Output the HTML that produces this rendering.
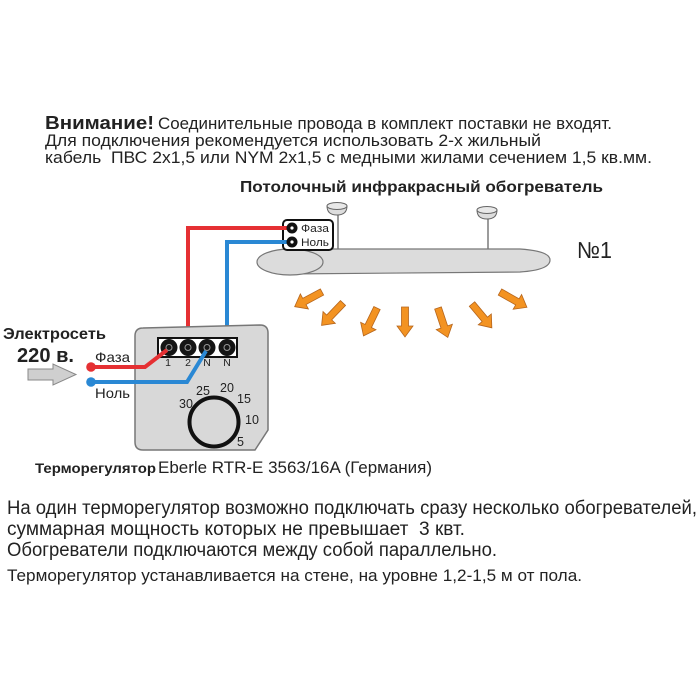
<!DOCTYPE html>
<html>
<head>
<meta charset="utf-8">
<style>
  html,body{margin:0;padding:0;background:#fff;}
  svg{display:block;}
  text{font-family:"Liberation Sans","DejaVu Sans",sans-serif;fill:#222;white-space:pre;}
  .b{font-weight:bold;}
</style>
</head>
<body>
<svg width="700" height="700" viewBox="0 0 700 700" xmlns="http://www.w3.org/2000/svg">
  <rect x="0" y="0" width="700" height="700" fill="#fff"/>

  <!-- Top text -->
  <text class="b" x="45" y="129" font-size="18" textLength="109" lengthAdjust="spacingAndGlyphs">Внимание!</text>
  <text x="158" y="129" font-size="16.5" textLength="454" lengthAdjust="spacingAndGlyphs">Соединительные провода в комплект поставки не входят.</text>
  <text x="45" y="146" font-size="16.5" textLength="496" lengthAdjust="spacingAndGlyphs">Для подключения рекомендуется использовать 2-х жильный</text>
  <text x="45" y="163" font-size="16.5" textLength="607" lengthAdjust="spacingAndGlyphs">кабель  ПВС 2х1,5 или NYM 2х1,5 с медными жилами сечением 1,5 кв.мм.</text>
  <text class="b" x="240" y="192" font-size="16" textLength="363" lengthAdjust="spacingAndGlyphs">Потолочный инфракрасный обогреватель</text>

  <!-- Heater hangers -->
  <line x1="338" y1="213" x2="338" y2="250" stroke="#666" stroke-width="1.3"/>
  <path d="M327 206 Q327 215 337 215 Q347 215 347 206 Z" fill="#ddd" stroke="#666" stroke-width="1"/>
  <ellipse cx="337" cy="206" rx="10" ry="3.5" fill="#e8e8e8" stroke="#666" stroke-width="1"/>
  <line x1="488" y1="217" x2="488" y2="250" stroke="#666" stroke-width="1.3"/>
  <path d="M477 210 Q477 219 487 219 Q497 219 497 210 Z" fill="#ddd" stroke="#666" stroke-width="1"/>
  <ellipse cx="487" cy="210" rx="10" ry="3.5" fill="#e8e8e8" stroke="#666" stroke-width="1"/>

  <!-- Heater body -->
  <path d="M285 249 L520 249 Q550 251 550 260 Q550 270 520 272 L285 274 Z" fill="#dcdcdc" stroke="#777" stroke-width="1.2"/>
  <ellipse cx="290" cy="262" rx="33" ry="13" fill="#dcdcdc" stroke="#777" stroke-width="1.2"/>

  <!-- Heater terminal box -->
  <rect x="283" y="220" width="50" height="30" rx="4" fill="#fff" stroke="#111" stroke-width="2"/>
  <text x="301" y="232" font-size="11" textLength="28" lengthAdjust="spacingAndGlyphs">Фаза</text>
  <text x="301" y="246" font-size="11" textLength="28" lengthAdjust="spacingAndGlyphs">Ноль</text>

  <!-- Wires to heater -->
  <polyline points="188,340 188,228 292,228" fill="none" stroke="#e53033" stroke-width="4"/>
  <polyline points="227,340 227,242 292,242" fill="none" stroke="#2a88d4" stroke-width="4"/>
  <circle cx="292" cy="228" r="5.5" fill="#111"/>
  <circle cx="292" cy="228" r="1.6" fill="#fff"/>
  <circle cx="292" cy="242" r="5.5" fill="#111"/>
  <circle cx="292" cy="242" r="1.6" fill="#fff"/>

  <text x="577" y="258" font-size="23" fill="#333" textLength="35" lengthAdjust="spacingAndGlyphs">№1</text>

  <!-- Orange heat arrows -->
  <g fill="#f39322" stroke="#b5651d" stroke-width="0.8">
    <path transform="translate(322,292) rotate(151.8)" d="M0,-3.5 L20,-3.5 L20,-8.5 L31,0 L20,8.5 L20,3.5 L0,3.5 Z"/>
    <path transform="translate(343,303) rotate(133.7)" d="M0,-3.5 L20,-3.5 L20,-8.5 L31,0 L20,8.5 L20,3.5 L0,3.5 Z"/>
    <path transform="translate(377,308) rotate(115.8)" d="M0,-3.5 L20,-3.5 L20,-8.5 L31,0 L20,8.5 L20,3.5 L0,3.5 Z"/>
    <path transform="translate(405,307) rotate(90)" d="M0,-3.5 L19,-3.5 L19,-8 L30,0 L19,8 L19,3.5 L0,3.5 Z"/>
    <path transform="translate(438,308) rotate(71.6)" d="M0,-3.5 L20,-3.5 L20,-8.5 L31,0 L20,8.5 L20,3.5 L0,3.5 Z"/>
    <path transform="translate(472,304) rotate(50.2)" d="M0,-3.5 L20,-3.5 L20,-8.5 L31,0 L20,8.5 L20,3.5 L0,3.5 Z"/>
    <path transform="translate(500,292) rotate(29.7)" d="M0,-3.5 L20,-3.5 L20,-8.5 L31,0 L20,8.5 L20,3.5 L0,3.5 Z"/>
  </g>

  <!-- Electroset -->
  <text class="b" x="3" y="339" font-size="16" textLength="103" lengthAdjust="spacingAndGlyphs">Электросеть</text>
  <text class="b" x="17" y="362" font-size="20" textLength="57" lengthAdjust="spacingAndGlyphs">220 в.</text>
  <path d="M28 369 L53 369 L53 364 L76 374.5 L53 385 L53 380 L28 380 Z" fill="#cfcfcf" stroke="#888" stroke-width="1"/>
  <text x="95" y="362" font-size="14" textLength="35" lengthAdjust="spacingAndGlyphs">Фаза</text>
  <text x="95" y="398" font-size="14" textLength="35" lengthAdjust="spacingAndGlyphs">Ноль</text>

  <!-- Thermostat box -->
  <path d="M143 328 L260 325 Q268 325 268 333 L268 430 L255 450 L143 450 Q135 450 135 442 L135 336 Q135 328 143 328 Z" fill="#d8d8d8" stroke="#777" stroke-width="1.5"/>

  <!-- Terminal strip -->
  <rect x="158" y="338" width="79" height="19" fill="#fff" stroke="#111" stroke-width="2"/>
  <g>
    <circle cx="169" cy="347.5" r="8.5" fill="#151515"/>
    <circle cx="169" cy="347.5" r="3" fill="none" stroke="#999" stroke-width="1"/>
    <circle cx="188" cy="347.5" r="8.5" fill="#151515"/>
    <circle cx="188" cy="347.5" r="3" fill="none" stroke="#999" stroke-width="1"/>
    <circle cx="207" cy="347.5" r="8.5" fill="#151515"/>
    <circle cx="207" cy="347.5" r="3" fill="none" stroke="#999" stroke-width="1"/>
    <circle cx="227" cy="347.5" r="8.5" fill="#151515"/>
    <circle cx="227" cy="347.5" r="3" fill="none" stroke="#999" stroke-width="1"/>
  </g>
  <text x="168" y="366" font-size="10.5" fill="#333" text-anchor="middle">1</text>
  <text x="188" y="366" font-size="10.5" fill="#333" text-anchor="middle">2</text>
  <text x="207" y="366" font-size="10.5" fill="#333" text-anchor="middle">N</text>
  <text x="227" y="366" font-size="10.5" fill="#333" text-anchor="middle">N</text>

  <!-- Supply wires -->
  <polyline points="91,367 145,367 167,350" fill="none" stroke="#e53033" stroke-width="4"/>
  <polyline points="91,382 187,382 206,351" fill="none" stroke="#2a88d4" stroke-width="4"/>
  <circle cx="91" cy="367" r="4.8" fill="#e53033"/>
  <circle cx="91" cy="382" r="4.8" fill="#2a88d4"/>

  <!-- Dial -->
  <circle cx="214" cy="422" r="24.5" fill="none" stroke="#111" stroke-width="4"/>
  <g font-size="12.5" fill="#333">
    <text x="179" y="408">30</text>
    <text x="196" y="395">25</text>
    <text x="220" y="392">20</text>
    <text x="237" y="403">15</text>
    <text x="245" y="424">10</text>
    <text x="237" y="446">5</text>
  </g>

  <!-- Thermostat label -->
  <text class="b" x="35" y="473" font-size="14" textLength="121" lengthAdjust="spacingAndGlyphs">Терморегулятор</text>
  <text x="158" y="473" font-size="16.5" textLength="274" lengthAdjust="spacingAndGlyphs">Eberle RTR-E 3563/16A (Германия)</text>

  <!-- Bottom text -->
  <text x="7" y="514" font-size="19" textLength="690" lengthAdjust="spacingAndGlyphs">На один терморегулятор возможно подключать сразу несколько обогревателей,</text>
  <text x="7" y="535" font-size="19" textLength="458" lengthAdjust="spacingAndGlyphs">суммарная мощность которых не превышает  3 квт.</text>
  <text x="7" y="556" font-size="19" textLength="490" lengthAdjust="spacingAndGlyphs">Обогреватели подключаются между собой параллельно.</text>
  <text x="7" y="581" font-size="17" textLength="575" lengthAdjust="spacingAndGlyphs">Терморегулятор устанавливается на стене, на уровне 1,2-1,5 м от пола.</text>
</svg>
</body>
</html>
